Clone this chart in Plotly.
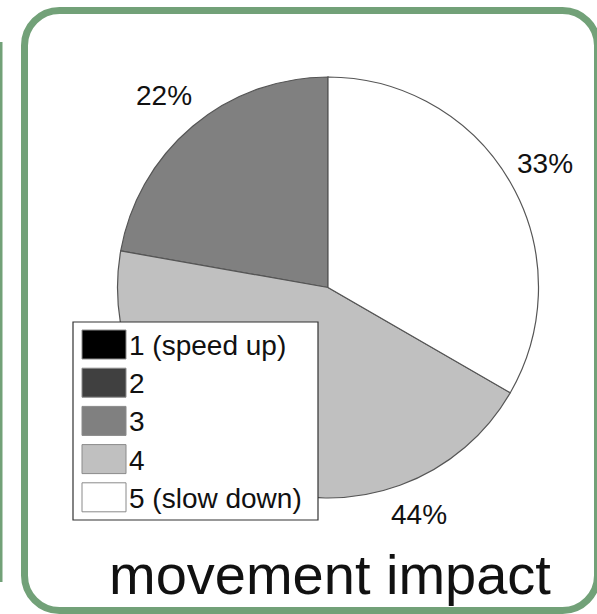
import plotly.graph_objects as go

# ---- data ----
categories = ["1 (speed up)", "2", "3", "4", "5 (slow down)"]
counts = [0, 0, 2, 4, 3]
slice_colors = ["#000000", "#404040", "#808080", "#c0c0c0", "#ffffff"]
chart_title = "movement impact"

# ---- layout helpers (pixel -> paper) ----
W, H = 597, 614


def px(x):
    return x / W


def py(y):
    return 1 - y / H


FONT = "Liberation Sans, Arial, Helvetica, sans-serif"
GREEN = "#72a178"

fig = go.Figure()

# pie geometry (pixels)
cx, cy, r = 328, 287.5, 210.5
fig.add_trace(go.Pie(
    labels=categories,
    values=counts,
    sort=False,
    direction="counterclockwise",
    rotation=0,
    marker=dict(colors=slice_colors, line=dict(color="#555555", width=1.2)),
    textinfo="none",
    hoverinfo="label+percent",
    showlegend=False,
    domain=dict(x=[px(cx - r), px(cx + r)], y=[py(cy + r), py(cy - r)]),
))

shapes = []
annotations = []


def rrect_path(x0, y0, x1, y1, rad):
    k = 0.5523 * rad

    def P(x, y):
        return f"{px(x):.5f},{py(y):.5f}"
    return (
        f"M {P(x0 + rad, y0)} L {P(x1 - rad, y0)} "
        f"C {P(x1 - rad + k, y0)} {P(x1, y0 + rad - k)} {P(x1, y0 + rad)} "
        f"L {P(x1, y1 - rad)} "
        f"C {P(x1, y1 - rad + k)} {P(x1 - rad + k, y1)} {P(x1 - rad, y1)} "
        f"L {P(x0 + rad, y1)} "
        f"C {P(x0 + rad - k, y1)} {P(x0, y1 - rad + k)} {P(x0, y1 - rad)} "
        f"L {P(x0, y0 + rad)} "
        f"C {P(x0, y0 + rad - k)} {P(x0 + rad - k, y0)} {P(x0 + rad, y0)} Z"
    )


# green rounded panel border
shapes.append(dict(type="path", xref="paper", yref="paper",
                   path=rrect_path(24.5, 10.5, 597.5, 610.5, 35),
                   line=dict(color=GREEN, width=7), layer="below"))
# neighbouring panel edge on the far left
shapes.append(dict(type="line", xref="paper", yref="paper",
                   x0=px(1), x1=px(1), y0=py(42), y1=py(582),
                   line=dict(color=GREEN, width=3), layer="below"))

# percentage labels
total = sum(counts)
label_pos = {2: (164, 96), 3: (419, 514), 4: (545, 163)}
for i, v in enumerate(counts):
    if v > 0:
        x, y = label_pos[i]
        annotations.append(dict(
            x=px(x), y=py(y), xref="paper", yref="paper",
            xanchor="center", yanchor="middle", showarrow=False,
            text=f"{round(100 * v / total)}%",
            font=dict(family=FONT, size=28, color="#111111")))

# custom legend
shapes.append(dict(type="rect", xref="paper", yref="paper",
                   x0=px(73), x1=px(318), y0=py(520), y1=py(322),
                   line=dict(color="#333333", width=1.2), fillcolor="white",
                   layer="above"))
row0, pitch, sw_h = 330, 38.2, 29
for i, (lab, col) in enumerate(zip(categories, slice_colors)):
    top = row0 + pitch * i
    shapes.append(dict(type="rect", xref="paper", yref="paper",
                       x0=px(82), x1=px(126), y0=py(top + sw_h), y1=py(top),
                       line=dict(color="#8a8a8a", width=1), fillcolor=col,
                       layer="above"))
    annotations.append(dict(
        x=px(127), y=py(top + sw_h / 2 + 1), xref="paper", yref="paper",
        xanchor="left", yanchor="middle", showarrow=False, text=lab,
        font=dict(family=FONT, size=28, color="#111111")))

# title at bottom
annotations.append(dict(
    x=px(329.5), y=py(574), xref="paper", yref="paper",
    xanchor="center", yanchor="middle", showarrow=False, text=chart_title,
    font=dict(family=FONT, size=56, color="#111111")))

fig.update_layout(
    width=W, height=H,
    margin=dict(l=0, r=0, t=0, b=0),
    paper_bgcolor="white", plot_bgcolor="white",
    shapes=shapes, annotations=annotations,
    showlegend=False,
)

fig.write_html(
    "out.html",
    config={"displayModeBar": False},
    post_script="document.body.style.margin='0px';document.body.style.overflow='hidden';",
)
